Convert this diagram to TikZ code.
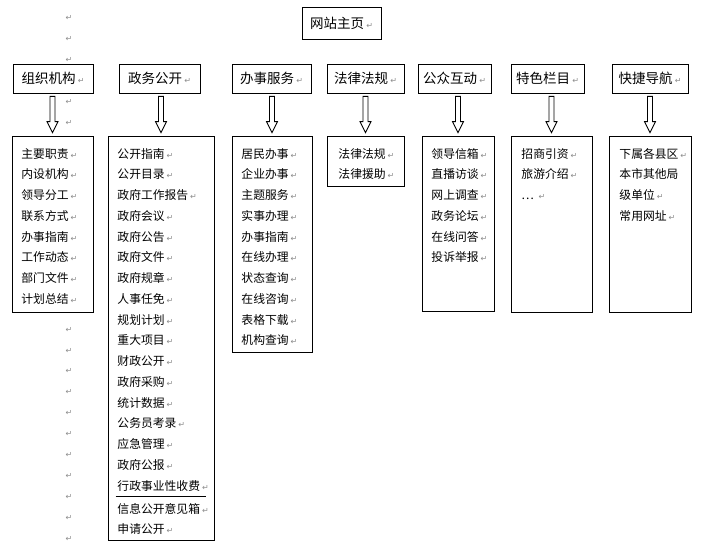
\documentclass[tikz,border=0pt]{standalone}
\usepackage{fontspec}
\setmainfont{Noto Sans CJK SC}
\newfontfamily\retfont{DejaVu Sans}
\usetikzlibrary{calc}

\newcommand{\retmark}{\,{\retfont\fontsize{8}{8}\selectfont\textcolor{black!45}{↵}}}

\begin{document}
\begin{tikzpicture}[x=1pt, y=-1pt, line width=0.9pt,
    head/.style={draw, inner sep=0pt, font=\fontsize{13.5}{16}\selectfont},
    listbox/.style={draw, fill=white, inner sep=0pt},
    item/.style={anchor=base west, align=left, inner sep=0pt, font=\fontsize{11.8}{20.75}\selectfont},
    retm/.style={inner sep=0pt, font=\retfont\fontsize{8}{8}\selectfont, text=black!45},
    hollow/.style={to path={let \p1=(\tikztostart), \p2=(\tikztotarget) in
        (\x2-2.5pt,\y1-3pt) -- (\x2-2.5pt,\y2+14pt) -- (\x2-5.5pt,\y2+14pt) -- (\x2,\y2+3pt)
        -- (\x2+5.5pt,\y2+14pt) -- (\x2+2.5pt,\y2+14pt) -- (\x2+2.5pt,\y1-3pt) -- cycle}}]
    \useasboundingbox (0,0) rectangle (702,551);

    % Define nodes
    \node[head, minimum width=79, minimum height=32] (home) at (341.5,23) {网站主页\retmark};

    \node[head, minimum width=80, minimum height=29] (zzjg) at (53,78.5) {组织机构\retmark};
    \node[head, minimum width=81, minimum height=29] (zwgk) at (159.5,78.5) {政务公开\retmark};
    \node[head, minimum width=79, minimum height=29] (bsfw) at (271.5,78.5) {办事服务\retmark};
    \node[head, minimum width=77, minimum height=29] (flfg) at (365.5,78.5) {法律法规\retmark};
    \node[head, minimum width=73, minimum height=29] (gzhd) at (454.5,78.5) {公众互动\retmark};
    \node[head, minimum width=73, minimum height=29] (tslm) at (547.5,78.5) {特色栏目\retmark};
    \node[head, minimum width=76, minimum height=29] (kjdh) at (650,78.5) {快捷导航\retmark};

    \node[listbox, minimum width=81, minimum height=176] (zzjg-list) at (52.5,224) {};
    \node[listbox, minimum width=106, minimum height=404] (zwgk-list) at (161,338) {};
    \node[listbox, minimum width=80, minimum height=216] (bsfw-list) at (272,244) {};
    \node[listbox, minimum width=77, minimum height=50] (flfg-list) at (365.5,161) {};
    \node[listbox, minimum width=72, minimum height=175] (gzhd-list) at (458,223.5) {};
    \node[listbox, minimum width=81, minimum height=176] (tslm-list) at (551.5,224) {};
    \node[listbox, minimum width=82, minimum height=176] (kjdh-list) at (650,224) {};

    % list texts (base = last line)
    \node[item] (zzjg-txt) at (21,303.25) {主要职责\retmark\\内设机构\retmark\\领导分工\retmark\\联系方式\retmark\\办事指南\retmark\\工作动态\retmark\\部门文件\retmark\\计划总结\retmark};
    \node[item] (zwgk-txt) at (117,490) {公开指南\retmark\\公开目录\retmark\\政府工作报告\retmark\\政府会议\retmark\\政府公告\retmark\\政府文件\retmark\\政府规章\retmark\\人事任免\retmark\\规划计划\retmark\\重大项目\retmark\\财政公开\retmark\\政府采购\retmark\\统计数据\retmark\\公务员考录\retmark\\应急管理\retmark\\政府公报\retmark\\行政事业性收费\retmark};
    \node[item] (zwgk-txt2) at (117,533.75) {信息公开意见箱\retmark\\申请公开\retmark};
    \node[item] (bsfw-txt) at (241,344.75) {居民办事\retmark\\企业办事\retmark\\主题服务\retmark\\实事办理\retmark\\办事指南\retmark\\在线办理\retmark\\状态查询\retmark\\在线咨询\retmark\\表格下载\retmark\\机构查询\retmark};
    \node[item] (flfg-txt) at (338,178.75) {法律法规\retmark\\法律援助\retmark};
    \node[item] (gzhd-txt) at (431,261.75) {领导信箱\retmark\\直播访谈\retmark\\网上调查\retmark\\政务论坛\retmark\\在线问答\retmark\\投诉举报\retmark};
    \node[item] (tslm-txt) at (521,199.5) {招商引资\retmark\\旅游介绍\retmark\\…\ \retmark};
    \node[item] (kjdh-txt) at (619,220.25) {下属各县区\retmark\\本市其他局\\级单位\retmark\\常用网址\retmark};

    % paragraph marks down the left margin
    \foreach \y [count=\i] in {18,39,60,102,123,330,351,371,392,413,434,455,476,497,518,539}
        \node[retm] (pm\i) at (69,\y) {↵};

    % Draw arrows
    \draw (zwgk-list.west |- 0,496) ++(8,0) coordinate (sep-a) -- ++(90,0) coordinate (sep-b);
    \draw[hollow] (zzjg.south) to (zzjg-list.north);
    \draw[hollow] (zwgk.south) to (zwgk-list.north);
    \draw[hollow] (bsfw.south) to (bsfw-list.north);
    \draw[hollow] (flfg.south) to (flfg-list.north);
    \draw[hollow] (gzhd.south) to (gzhd-list.north);
    \draw[hollow] (tslm.south) to (tslm-list.north);
    \draw[hollow] (kjdh.south) to (kjdh-list.north);
\end{tikzpicture}
\end{document}
